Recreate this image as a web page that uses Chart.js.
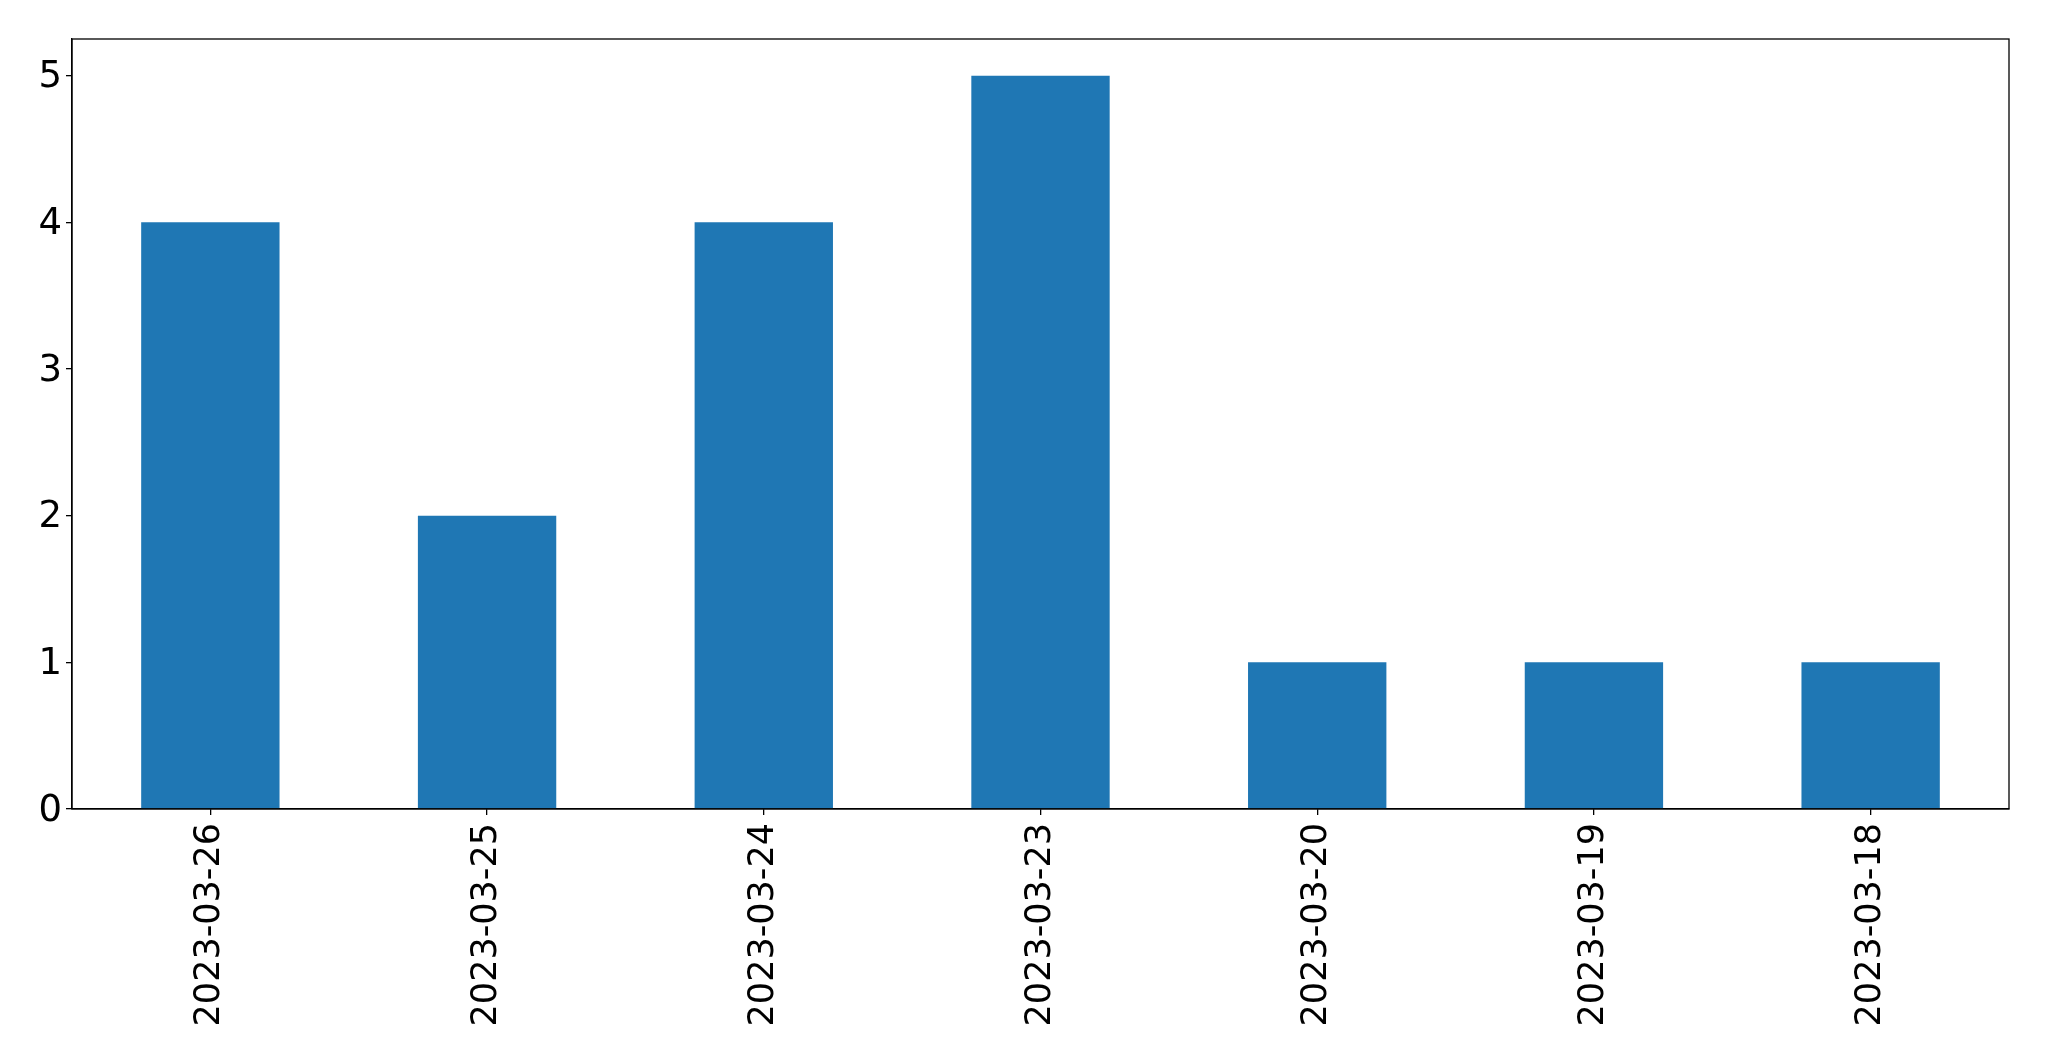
<!DOCTYPE html>
<html>
<head>
<meta charset="utf-8">
<script src="https://cdn.jsdelivr.net/npm/chart.js@4"></script>
<style>
  html, body { margin: 0; padding: 0; background: #fff; }
  #wrap { width: 2049px; height: 1061px; position: relative; }
</style>
</head>
<body>
<div id="wrap"><canvas id="c" width="2049" height="1061"></canvas></div>
<script>
const categories = ["2023-03-26", "2023-03-25", "2023-03-24", "2023-03-23", "2023-03-20", "2023-03-19", "2023-03-18"];
const counts = [4, 2, 4, 5, 1, 1, 1];
const yTicks = [0, 1, 2, 3, 4, 5];

const frame = {
  id: 'frame',
  afterDatasetsDraw(chart) {
    const a = chart.chartArea, ctx = chart.ctx;
    ctx.save();
    ctx.strokeStyle = '#000';
    ctx.lineWidth = 1.3;
    ctx.strokeRect(a.left, a.top, a.right - a.left, a.bottom - a.top);
    ctx.restore();
  }
};

new Chart(document.getElementById('c'), {
  type: 'bar',
  data: {
    labels: categories,
    datasets: [{
      data: counts,
      backgroundColor: '#1f77b4',
      borderWidth: 0,
      barPercentage: 0.5,
      categoryPercentage: 1.0
    }]
  },
  options: {
    responsive: false,
    animation: false,
    devicePixelRatio: 1,
    layout: { padding: { top: 39, right: 40, left: 0, bottom: 0 } },
    plugins: { legend: { display: false }, tooltip: { enabled: false } },
    scales: {
      x: {
        offset: true,
        grid: { display: true, drawOnChartArea: false, offset: false, tickLength: 6, color: '#000', lineWidth: 1.3 },
        border: { display: true, color: '#000', width: 1.3 },
        ticks: {
          color: '#000',
          font: { family: 'DejaVu Sans', size: 35 },
          minRotation: 90, maxRotation: 90,
          padding: 8,
          autoSkip: false
        },
        afterFit(scale) { scale.height = 252; }
      },
      y: {
        min: 0, max: 5.25,
        grid: { display: true, drawOnChartArea: false, tickLength: 6, color: '#000', lineWidth: 1.3 },
        border: { display: true, color: '#000', width: 1.3 },
        ticks: {
          color: '#000',
          font: { family: 'DejaVu Sans', size: 37 },
          padding: 4,
          labelOffset: 2,
          stepSize: 1
        },
        afterBuildTicks(scale) { scale.ticks = yTicks.map(v => ({ value: v })); },
        afterFit(scale) { scale.width = 72; }
      }
    }
  },
  plugins: [frame]
});
</script>
</body>
</html>
